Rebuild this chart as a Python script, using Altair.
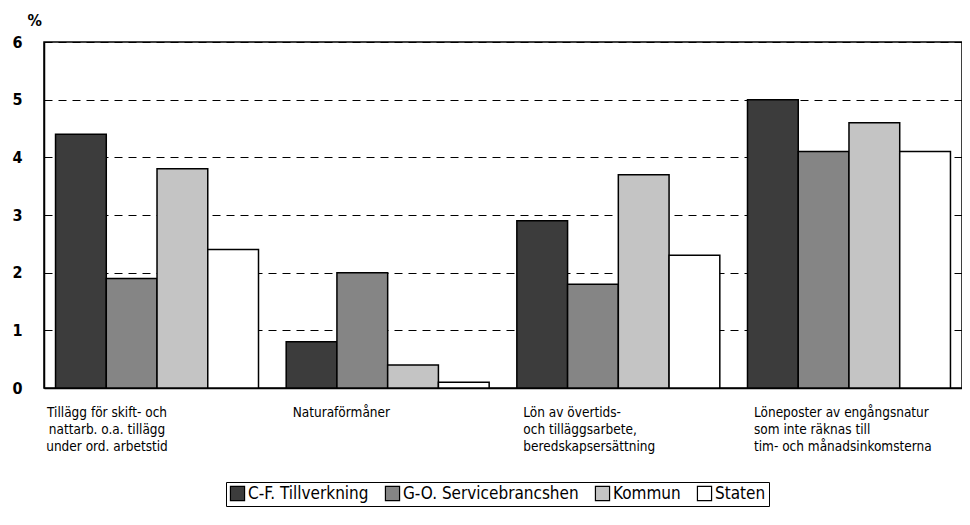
import altair as alt
import pandas as pd

categories = [
    "Tillägg för skift- och\nnattarb. o.a. tillägg\nunder ord. arbetstid",
    "Naturaförmåner",
    "Lön av övertids-\noch tilläggsarbete,\nberedskapsersättning",
    "Löneposter av engångsnatur\nsom inte räknas till\ntim- och månadsinkomsterna",
]
series = ["C-F. Tillverkning", "G-O. Servicebrancshen", "Kommun", "Staten"]
tillverkning = [4.4, 0.8, 2.9, 5.0]
service = [1.9, 2.0, 1.8, 4.1]
kommun = [3.8, 0.4, 3.7, 4.6]
staten = [2.4, 0.1, 2.3, 4.1]
colors = ["#3c3c3c", "#858585", "#c4c4c4", "#ffffff"]
y_ticks = [0, 1, 2, 3, 4, 5, 6]

rows = []
for s, vals in zip(series, [tillverkning, service, kommun, staten]):
    for c, v in zip(categories, vals):
        rows.append({"kategori": c, "serie": s, "varde": v})
df = pd.DataFrame(rows)
lab = pd.DataFrame({"kategori": categories})

FONT = "DejaVu Sans Condensed, Liberation Sans Narrow, sans-serif"
W, H = 918, 346

xscale = alt.Scale(domain=categories, paddingInner=0.12, paddingOuter=0.05)

bars = alt.Chart(df).mark_bar(stroke="black", strokeWidth=1.5).encode(
    x=alt.X("kategori:N", scale=xscale, sort=categories,
            axis=alt.Axis(labels=False, ticks=False, title=None, domainColor="black", domainWidth=1.5)),
    xOffset=alt.XOffset("serie:N", sort=series, scale=alt.Scale(paddingInner=0, paddingOuter=0)),
    y=alt.Y("varde:Q", scale=alt.Scale(domain=[0, 6]),
            axis=alt.Axis(values=y_ticks, grid=True, gridDash=[8, 6], gridColor="black", gridOpacity=1,
                          gridWidth=1, ticks=False, domainColor="black", domainWidth=1.5,
                          labelFont=FONT, labelFontSize=16, labelFontWeight="bold", labelColor="black",
                          labelPadding=22, title="%", titleAngle=0, titleX=-17, titleY=-14,
                          titleBaseline="bottom", titleAlign="left", titleFont=FONT, titleFontSize=16,
                          titleFontWeight="bold", titleColor="black")),
    color=alt.Color("serie:N", sort=series, scale=alt.Scale(domain=series, range=colors),
                    legend=alt.Legend(title=None, orient="none", legendX=182, legendY=440,
                                      direction="horizontal", strokeColor="black", padding=3,
                                      symbolType="square", symbolSize=200, symbolStrokeColor="black",
                                      symbolStrokeWidth=1.2, labelFont=FONT, labelFontSize=17,
                                      labelFontWeight="normal", labelColor="black", columnPadding=14,
                                      labelOffset=2, labelLimit=400)),
)

lab_first = alt.Chart(lab).transform_filter(
    alt.datum.kategori == categories[0]
).mark_text(lineBreak="\n", align="center", baseline="top", font=FONT, fontSize=13.5,
            fontWeight="normal", color="black", dx=-50, lineHeight=17).encode(
    x=alt.X("kategori:N", scale=xscale, sort=categories),
    y=alt.value(H + 18),
    text="kategori:N",
)
lab_rest = alt.Chart(lab).transform_filter(
    alt.datum.kategori != categories[0]
).mark_text(lineBreak="\n", align="left", baseline="top", font=FONT, fontSize=13.5,
            fontWeight="normal", color="black", dx=-95, lineHeight=17).encode(
    x=alt.X("kategori:N", scale=xscale, sort=categories),
    y=alt.value(H + 18),
    text="kategori:N",
)

chart = alt.layer(bars, lab_first, lab_rest).properties(
    width=W, height=H,
    autosize=alt.AutoSizeParams(type="none"),
    padding={"left": 36, "top": 34, "right": 0, "bottom": 125},
).configure(background="white").configure_view(stroke="black", strokeWidth=1.5)

chart.save("out.html", embed_options={"renderer": "svg", "actions": False})
